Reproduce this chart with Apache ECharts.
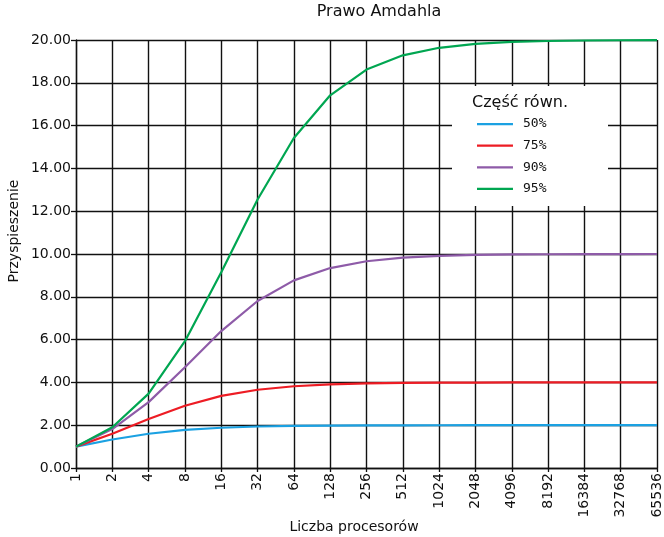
<!DOCTYPE html>
<html><head><meta charset="utf-8">
<script src="https://cdn.jsdelivr.net/npm/echarts@6/dist/echarts.min.js"></script>
<style>html,body{margin:0;padding:0;background:#fff}#c{width:664px;height:537px}</style>
</head><body><div id="c"></div>
<script>
const categories = ['1','2','4','8','16','32','64','128','256','512','1024','2048','4096','8192','16384','32768','65536'];
const yTicks = [0,2,4,6,8,10,12,14,16,18,20];
const s50 = [1, 1.333, 1.6, 1.778, 1.882, 1.939, 1.969, 1.984, 1.992, 1.996, 1.998, 1.999, 1.9995, 1.9998, 1.9999, 2.0, 2.0];
const s75 = [1, 1.6, 2.286, 2.909, 3.368, 3.657, 3.821, 3.908, 3.954, 3.977, 3.988, 3.994, 3.997, 3.999, 3.999, 4.0, 4.0];
const s90 = [1, 1.818, 3.077, 4.706, 6.4, 7.805, 8.767, 9.343, 9.660, 9.827, 9.913, 9.956, 9.978, 9.989, 9.995, 9.997, 9.999];
const s95 = [1, 1.905, 3.478, 5.926, 9.143, 12.549, 15.422, 17.415, 18.618, 19.284, 19.636, 19.817, 19.908, 19.954, 19.977, 19.988, 19.994];
const seriesNames = ['50%','75%','90%','95%'];
const seriesColors = ['#1ba1e2','#ed1c24','#8e5ba8','#00a651'];
const seriesData = [s50, s75, s90, s95];

const font = 'DejaVu Sans';
const chart = echarts.init(document.getElementById('c'));
chart.setOption({
  animation: false,
  backgroundColor: '#fff',
  grid: {left: 76, right: 7, top: 40, bottom: 69, containLabel: false},
  xAxis: {
    type: 'category', data: categories, boundaryGap: false,
    axisLine: {lineStyle: {color: '#111', width: 1.3}},
    axisTick: {show: true, alignWithLabel: true, length: 4, lineStyle: {color: '#111', width: 1.3}},
    axisLabel: {rotate: 90, fontFamily: font, fontSize: 14, color: '#111', margin: 5, interval: 0},
    splitLine: {show: true, lineStyle: {color: '#111', width: 1.4}}
  },
  yAxis: {
    type: 'value', min: yTicks[0], max: yTicks[yTicks.length-1], interval: 2,
    axisLine: {show: true, lineStyle: {color: '#111', width: 1.3}},
    axisTick: {show: true, length: 5, lineStyle: {color: '#111', width: 1.3}},
    axisLabel: {fontFamily: font, fontSize: 14, color: '#111', margin: 5, formatter: v => v.toFixed(2)},
    splitLine: {show: true, lineStyle: {color: '#111', width: 1.4}}
  },
  legend: {
    data: seriesNames, orient: 'vertical', left: 477, top: 117, padding: 0,
    itemWidth: 36, itemHeight: 14, itemGap: 7.6,
    icon: 'path://M0,0H36V0.01H0Z M0,6H36V8.2H0Z M0,14H36V14.01H0Z',
    textStyle: {fontFamily: 'DejaVu Sans Mono', fontSize: 13, color: '#111', padding: [0,0,0,5]},
    z: 10
  },
  graphic: {elements: [
    {type: 'rect', shape: {x: 452, y: 86, width: 156, height: 120}, style: {fill: '#fff'}, z: 5},
    {type: 'text', x: 472, y: 103, style: {text: 'Część równ.', font: '16px "DejaVu Sans"', fill: '#111', textVerticalAlign: 'middle'}, z: 11},
    {type: 'text', x: 379, y: 12, style: {text: 'Prawo Amdahla', font: '16px "DejaVu Sans"', fill: '#111', textAlign: 'center', textVerticalAlign: 'middle'}, z: 11},
    {type: 'text', x: 354, y: 527, style: {text: 'Liczba procesorów', font: '14px "DejaVu Sans"', fill: '#111', textAlign: 'center', textVerticalAlign: 'middle'}, z: 11},
    {type: 'text', x: 14, y: 231, rotation: Math.PI/2, style: {text: 'Przyspieszenie', font: '14px "DejaVu Sans"', fill: '#111', textAlign: 'center', textVerticalAlign: 'middle'}, z: 11}
  ]},
  series: seriesNames.map((n, i) => ({
    name: n, type: 'line', data: seriesData[i], symbol: 'none', smooth: false,
    color: seriesColors[i], lineStyle: {color: seriesColors[i], width: 2.2}
  }))
});
</script></body></html>
